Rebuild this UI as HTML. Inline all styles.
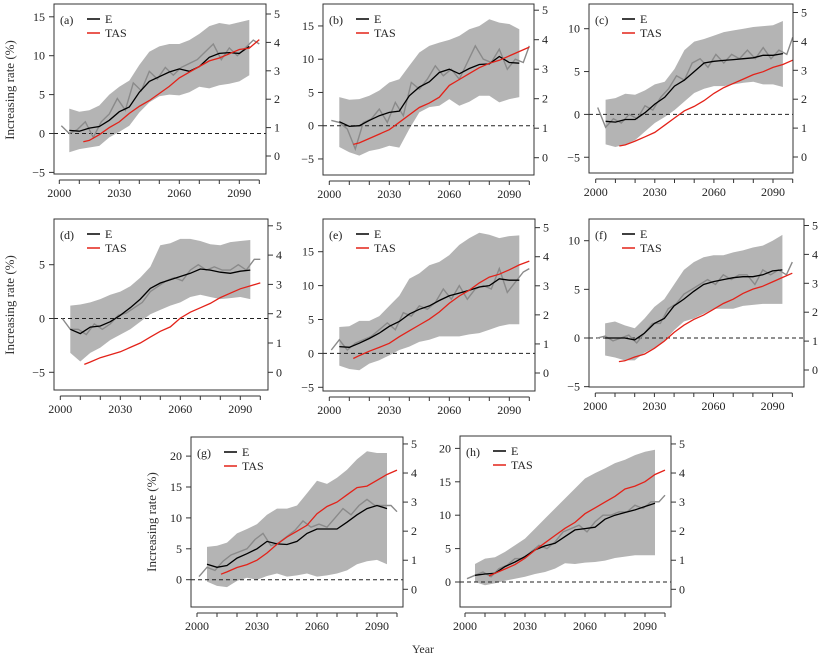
<!DOCTYPE html>
<html><head><meta charset="utf-8">
<style>
html,body{margin:0;padding:0;background:#fff;}
svg, svg text{font-family:"Liberation Serif","Times New Roman",serif;}
svg{display:block;}
</style></head>
<body>
<svg id="fig" width="823" height="660" viewBox="0 0 823 660">
<text x="14" y="90" font-size="13" fill="#333" font-family="Liberation Serif, serif" text-anchor="middle" transform="rotate(-90 14 90)">Increasing  rate  (%)</text>
<text x="14" y="305" font-size="13" fill="#333" font-family="Liberation Serif, serif" text-anchor="middle" transform="rotate(-90 14 305)">Increasing  rate  (%)</text>
<text x="156" y="522" font-size="13" fill="#333" font-family="Liberation Serif, serif" text-anchor="middle" transform="rotate(-90 156 522)">Increasing  rate  (%)</text>
<text x="423" y="653" font-size="12" fill="#333" font-family="Liberation Serif, serif" text-anchor="middle">Year</text>
</svg>
<script>
// shared year arrays
const bandYears = [2005,2010,2015,2020,2025,2030,2035,2040,2045,2050,2055,2060,2065,2070,2075,2080,2085,2090,2095];
const tasYears = [2012,2015,2020,2025,2030,2035,2040,2045,2050,2055,2060,2065,2070,2075,2080,2085,2090,2095,2100];
const rawYears = [2001,2005,2009,2013,2017,2021,2025,2029,2033,2037,2041,2045,2049,2053,2057,2061,2065,2069,2073,2077,2081,2085,2089,2093,2097,2100];
const xTickYears = [2000,2010,2020,2030,2040,2050,2060,2070,2080,2090,2100];
const xLabelYears = [2000,2030,2060,2090];
const rightTicks = [0,1,2,3,4,5];

// panel (a)
const eA = [0.4,0.3,0.7,0.9,1.7,2.8,3.4,5.3,6.7,7.3,7.9,8.3,8.0,8.6,9.8,10.3,10.4,10.3,11.2];
const upA = [3.2,2.8,3.0,3.6,5.0,6.0,6.8,8.8,10.5,11.2,11.5,11.5,12.0,12.8,13.8,14.2,14.0,14.3,14.6];
const loA = [-2.4,-2.0,-1.8,-1.6,-0.5,0.2,1.0,2.7,4.0,4.8,5.0,4.9,5.3,6.0,5.8,6.2,6.4,6.7,7.5];
const tasA = [0.5,0.55,0.75,1.0,1.2,1.5,1.75,1.95,2.2,2.45,2.75,2.95,3.15,3.35,3.45,3.6,3.75,3.8,4.1];
const rawA = [1.0,0.0,0.5,1.5,-0.5,1.5,2.5,4.5,3.0,6.5,5.5,8.0,7.0,8.5,7.5,8.5,9.0,9.5,10.5,11.5,9.5,11.0,10.0,11.0,12.0,11.5];
const ticksA = [-5,0,5,10,15];
// panel (b)
const eB = [0.6,-0.1,0,0.8,1.5,2.0,2.2,4.5,5.8,6.6,8.0,8.5,7.8,8.6,9.2,9.3,10.4,9.5,9.4];
const upB = [4.3,3.9,4.0,4.5,5.3,6.5,7.0,9.0,11.0,12.0,12.5,12.9,13.5,14.5,15.0,16.0,15.5,15.3,14.5];
const loB = [-3.2,-4.0,-4.5,-3.8,-3.5,-3.0,-3.3,-0.5,2.0,2.8,3.0,4.0,3.0,3.6,4.5,4.5,3.5,4.0,4.3];
const tasB = [0.45,0.5,0.65,0.8,0.95,1.2,1.45,1.7,1.85,2.05,2.45,2.65,2.85,3.05,3.2,3.3,3.45,3.6,3.75];
const rawB = [0.8,0.5,-0.5,-3.5,0.5,1.0,2.5,0.5,3.5,1.5,6.5,5.5,7.0,9.0,7.5,8.5,7.0,9.5,12.0,10.0,9.5,11.5,8.5,10.0,9.5,12.0];
const ticksB = [-5,0,5,10,15];
// panel (c)
const eC = [-0.8,-0.9,-0.6,-0.6,0.2,1.2,2.0,3.3,4.0,5.0,6.0,6.2,6.3,6.4,6.5,6.6,6.9,6.9,7.1];
const upC = [1.7,1.9,2.4,2.3,2.8,3.5,3.8,5.3,7.5,8.5,8.8,9.2,9.6,9.8,10.0,10.2,10.3,10.4,10.9];
const loC = [-3.5,-3.8,-3.5,-3.0,-2.0,-1.0,-0.3,0.5,1.5,2.5,3.0,3.3,3.3,3.5,3.7,3.8,3.5,3.5,3.2];
const tasC = [0.38,0.42,0.55,0.7,0.85,1.1,1.35,1.6,1.75,1.95,2.2,2.4,2.55,2.7,2.85,2.95,3.1,3.2,3.35];
const rawC = [0.8,-1.5,-0.5,-1.0,0.0,-0.5,1.0,0.5,2.0,3.0,4.5,4.0,6.0,6.5,5.5,7.0,6.0,7.0,6.5,7.5,6.5,7.8,6.5,7.5,7.0,9.0];
const ticksC = [-5,0,5,10];
// panel (d)
const eD = [-1.0,-1.4,-0.8,-0.7,-0.3,0.3,1.0,1.8,2.8,3.3,3.6,3.9,4.2,4.6,4.5,4.3,4.2,4.4,4.5];
const upD = [1.2,1.3,1.5,1.8,2.2,2.5,3.0,3.8,4.8,6.8,7.0,7.4,7.4,7.2,6.9,6.8,7.1,7.2,7.3];
const loD = [-3.2,-4.0,-3.2,-2.7,-2.0,-1.5,-1.0,-0.3,0.4,0.8,1.2,1.5,2.0,2.2,2.0,1.8,1.9,2.0,1.8];
const tasD = [0.27,0.35,0.5,0.6,0.7,0.85,1.0,1.2,1.4,1.55,1.85,2.05,2.2,2.35,2.55,2.7,2.85,2.95,3.05];
const rawD = [0.0,-1.0,-1.0,-1.5,-0.5,-1.0,-0.5,0.3,0.5,1.0,1.5,2.5,3.0,3.5,3.8,3.5,4.5,5.0,4.5,4.8,4.5,4.5,5.0,4.5,5.5,5.5];
const ticksD = [-5,0,5];
// panel (e)
const eE = [1.0,0.9,1.5,2.2,3.0,4.0,4.7,5.8,6.5,7.0,7.8,8.5,8.9,9.3,9.8,10.0,11.0,10.8,10.8];
const upE = [3.9,4.0,4.8,4.8,5.5,7.0,8.5,11.0,11.8,13.0,13.5,14.5,16.0,17.0,17.8,17.5,17.0,17.3,17.4];
const loE = [-1.8,-2.3,-2.5,-1.5,-1.0,-0.3,0.5,1.0,1.7,2.0,2.5,2.5,2.5,2.8,3.0,3.5,4.0,4.3,4.3];
const tasE = [0.5,0.6,0.75,0.88,1.02,1.25,1.45,1.65,1.85,2.1,2.4,2.65,2.85,3.1,3.3,3.4,3.55,3.72,3.85];
const rawE = [0.5,2.0,0.5,1.5,2.0,2.5,3.5,4.5,3.5,6.0,5.5,7.0,6.5,7.5,9.5,8.0,10.0,8.0,9.5,10.0,9.5,12.5,9.0,10.5,12.0,12.5];
const ticksE = [-5,0,5,10,15];
// panel (f)
const eF = [0,0,0,-0.2,0.5,1.5,2.0,3.3,4.0,4.8,5.5,5.8,6.0,6.2,6.3,6.3,6.5,6.9,7.0];
const upF = [1.5,1.7,1.3,1.0,2.0,3.2,4.0,5.5,7.0,7.8,8.3,8.5,8.5,8.8,9.0,9.3,9.5,10.0,10.6];
const loF = [-1.8,-2.0,-2.3,-2.3,-1.5,-1.0,-0.3,0.8,1.7,2.0,2.5,3.0,3.0,3.0,3.3,3.4,3.5,3.5,3.5];
const tasF = [0.29,0.32,0.45,0.55,0.75,1.0,1.3,1.55,1.75,1.9,2.1,2.3,2.45,2.65,2.8,2.9,3.05,3.2,3.35];
const rawF = [0,0.2,-0.3,0.0,0.3,-0.5,0.5,1.5,1.5,3.0,3.5,4.5,5.0,5.5,6.0,5.5,6.5,6.0,6.5,6.5,5.5,7.0,6.5,7.0,6.5,7.8];
const ticksF = [-5,0,5,10];
// panel (g)
const eG = [2.5,2.0,2.3,3.5,4.2,5.0,6.2,5.8,5.7,6.2,7.5,8.2,8.2,8.2,9.3,10.5,11.5,12.0,11.5];
const upG = [5.3,5.5,6.0,7.5,8.2,9.0,10.5,11.5,11.5,12.0,14.0,16.0,15.5,16.5,17.8,19.5,20.8,20.5,20.5];
const loG = [-0.3,-1.0,-1.2,-0.2,0.3,0.0,0.6,1.0,0.5,0.7,1.0,0.5,0.7,1.0,1.5,2.5,3.0,3.2,2.5];
const tasG = [0.52,0.6,0.75,0.85,1.0,1.25,1.55,1.8,2.0,2.2,2.6,2.85,3.0,3.25,3.5,3.55,3.75,3.95,4.1];
const rawG = [0.5,2.0,1.5,3.0,4.0,4.5,5.0,6.5,7.5,5.5,6.0,7.0,8.0,9.5,8.5,9.0,8.5,10.0,11.5,10.5,12.0,13.0,12.0,12.0,12.0,11.0];
const ticksG = [0,5,10,15,20];
// panel (h)
const eH = [1.0,1.2,1.3,2.3,3.0,3.8,4.8,5.4,5.8,6.8,7.8,8.0,8.2,9.4,10.0,10.4,10.8,11.3,11.8];
const upH = [2.7,3.5,3.7,4.5,5.5,6.5,8.0,9.5,11.0,12.5,14.0,15.5,16.3,17.0,17.8,18.3,19.0,19.5,19.8];
const loH = [0.0,-0.5,-0.2,0.2,0.5,0.8,1.2,1.5,2.0,2.8,2.7,2.9,3.0,3.2,3.6,3.8,4.0,4.0,4.0];
const tasH = [0.46,0.55,0.7,0.85,1.07,1.35,1.6,1.85,2.1,2.3,2.6,2.8,3.0,3.2,3.45,3.55,3.7,3.95,4.1];
const rawH = [0.5,1.0,1.5,0.8,2.0,2.5,3.5,3.5,4.5,5.5,5.0,6.0,7.5,8.0,8.5,7.5,9.0,10.0,10.0,10.5,10.5,11.5,11.0,12.0,12.0,13.0];
const ticksH = [0,5,10,15,20];

const NS = "http://www.w3.org/2000/svg";
const svg = document.getElementById('fig');
const FONT = '"Liberation Serif", "Times New Roman", serif';
function mk(tag, attrs, parent){
  const el = document.createElementNS(NS, tag);
  for (const k in attrs) el.setAttribute(k, attrs[k]);
  if (tag === 'text') el.setAttribute('font-family', FONT);
  (parent||svg).appendChild(el);
  return el;
}
// layout (geometry only)
const panels = [
 {id:'a',L:54,R:266,T:4,B:174,x0:59.3,yz:133.5,ys:7.78,rz:156,rs:28.4,e:eA,up:upA,lo:loA,tas:tasA,raw:rawA,ticks:ticksA},
 {id:'b',L:323,R:534,T:4,B:175,x0:329.3,yz:125.7,ys:6.65,rz:157.7,rs:29.5,e:eB,up:upB,lo:loB,tas:tasB,raw:rawB,ticks:ticksB},
 {id:'c',L:589,R:793,T:4,B:173,x0:595.7,yz:114.4,ys:8.57,rz:157,rs:28.9,e:eC,up:upC,lo:loC,tas:tasC,raw:rawC,ticks:ticksC,xs:1.97},
 {id:'d',L:54,R:268,T:219,B:390,x0:60.3,yz:318.5,ys:10.76,rz:372.3,rs:29.3,e:eD,up:upD,lo:loD,tas:tasD,raw:rawD,ticks:ticksD},
 {id:'e',L:323,R:535,T:219,B:391,x0:329.3,yz:353.4,ys:6.78,rz:373,rs:29.07,e:eE,up:upE,lo:loE,tas:tasE,raw:rawE,ticks:ticksE},
 {id:'f',L:589,R:804,T:219,B:387,x0:595.3,yz:338,ys:9.73,rz:370,rs:28.9,e:eF,up:upF,lo:loF,tas:tasF,raw:rawF,ticks:ticksF,xs:1.97},
 {id:'g',L:191,R:403,T:437,B:607,x0:197,yz:579.7,ys:6.18,rz:589.3,rs:29.07,e:eG,up:upG,lo:loG,tas:tasG,raw:rawG,ticks:ticksG},
 {id:'h',L:460,R:671,T:436,B:607,x0:465,yz:582,ys:6.68,rz:589.3,rs:29.07,e:eH,up:upH,lo:loH,tas:tasH,raw:rawH,ticks:ticksH}
];
panels.forEach(p=>{
  const xs = p.xs||2.0;
  const X = yr => p.x0 + (yr-2000)*xs;
  const Y = v => p.yz - v*p.ys;
  const YR = v => p.rz - v*p.rs;
  const g = mk('g',{});
  
  
  let d = bandYears.map((yr,i)=>(i?'L':'M')+X(yr).toFixed(1)+','+Y(p.up[i]).toFixed(1)).join('');
  for (let i=bandYears.length-1;i>=0;i--) d += 'L'+X(bandYears[i]).toFixed(1)+','+Y(p.lo[i]).toFixed(1);
  const band = mk('path',{d:d+'Z',fill:'#b4b4b4',stroke:'none'},g);
  
  
  const z = mk('line',{x1:p.L,x2:p.R,y1:Y(0),y2:Y(0),stroke:'#222','stroke-width':1,'stroke-dasharray':'4,3'},g);
  
  
  const raw = mk('polyline',{points:rawYears.map((yr,i)=>X(yr).toFixed(1)+','+Y(p.raw[i]).toFixed(1)).join(' '),fill:'none',stroke:'#8a8a8a','stroke-width':1.4},g);
  
  
  const el = mk('polyline',{points:bandYears.map((yr,i)=>X(yr).toFixed(1)+','+Y(p.e[i]).toFixed(1)).join(' '),fill:'none',stroke:'#000','stroke-width':1.3},g);
  
  
  const tl = mk('polyline',{points:tasYears.map((yr,i)=>X(yr).toFixed(1)+','+YR(p.tas[i]).toFixed(1)).join(' '),fill:'none',stroke:'#e32219','stroke-width':1.3},g);
  
  
  const box = mk('rect',{x:p.L,y:p.T,width:p.R-p.L,height:p.B-p.T,fill:'none',stroke:'#333','stroke-width':1},g);
  
  
  const ax = mk('line',{x1:X(2000),x2:X(2100),y1:p.B+6,y2:p.B+6,stroke:'#333','stroke-width':1},g);
  
  
  xTickYears.forEach(yr=>{
    const t = mk('line',{x1:X(yr),x2:X(yr),y1:p.B+6,y2:p.B+10,stroke:'#333','stroke-width':1},g);
    
    
  });
  xLabelYears.forEach(yr=>{
    const t = mk('text',{x:X(yr),y:p.B+23,'font-size':12,'text-anchor':'middle',fill:'#222'},g);
    t.textContent = yr;
    
    
  });
  p.ticks.forEach(v=>{
    const t = mk('line',{x1:p.L-5,x2:p.L,y1:Y(v),y2:Y(v),stroke:'#333','stroke-width':1},g);
    
    
    const l = mk('text',{x:p.L-9,y:Y(v)+4,'font-size':12,'text-anchor':'end',fill:'#222'},g);
    l.textContent = v<0 ? '\u2212'+Math.abs(v) : v;
    
    
  });
  rightTicks.forEach(v=>{
    const t = mk('line',{x1:p.R,x2:p.R+5,y1:YR(v),y2:YR(v),stroke:'#333','stroke-width':1},g);
    
    
    const l = mk('text',{x:p.R+8,y:YR(v)+4,'font-size':12,'text-anchor':'start',fill:'#222'},g);
    l.textContent = v;
    
    
  });
  const lab = mk('text',{x:p.L+6,y:p.T+20,'font-size':12,fill:'#222'},g);
  lab.textContent = '('+p.id+')';
  
  
  const l1 = mk('line',{x1:p.L+33,x2:p.L+46,y1:p.T+15,y2:p.T+15,stroke:'#000','stroke-width':1.5},g);
  
  
  const t1 = mk('text',{x:p.L+51,y:p.T+19,'font-size':12,fill:'#222'},g);
  t1.textContent = 'E';
  
  
  const l2 = mk('line',{x1:p.L+33,x2:p.L+46,y1:p.T+29,y2:p.T+29,stroke:'#e32219','stroke-width':1.5},g);
  
  
  const t2 = mk('text',{x:p.L+51,y:p.T+33,'font-size':12,fill:'#222'},g);
  t2.textContent = 'TAS';
  
  
});
</script>
</body></html>
